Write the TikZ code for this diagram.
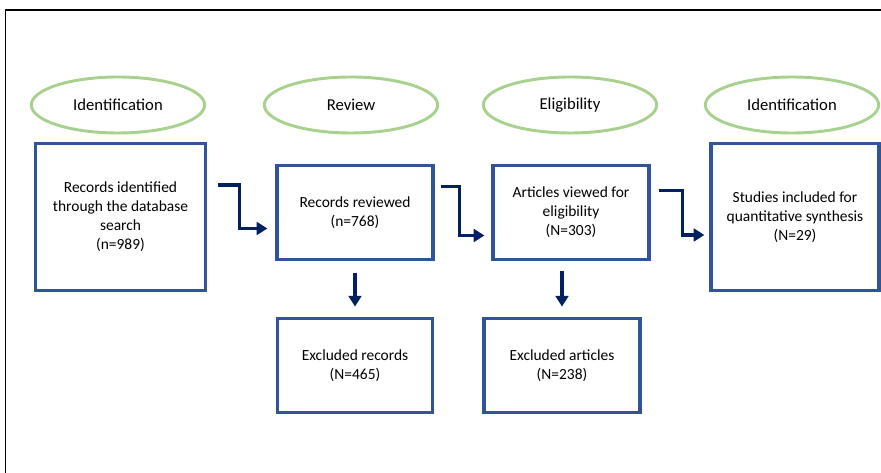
\documentclass[tikz,border=0pt]{standalone}
\usepackage{fontspec}
\setmainfont{Carlito}
\usetikzlibrary{arrows.meta,calc,shapes.geometric}

\tikzset{
	phase/.style={ellipse, draw={rgb, 255:red, 169; green, 209; blue, 142 }, line width=2.2pt, minimum width=130pt, minimum height=42pt, inner sep=0pt, font=\fontsize{12.5}{15}\selectfont},
	stage/.style={draw={rgb, 255:red, 47; green, 85; blue, 151 }, line width=2.4pt, align=center, inner sep=0pt, font=\fontsize{11.6}{14.3}\selectfont},
	flow/.style={draw={rgb, 255:red, 0; green, 32; blue, 96 }, line width=2.6pt, -{Triangle[length=8pt,width=9.5pt]}}
}

\begin{document}
\begin{tikzpicture}[x=0.75pt,y=0.75pt,yscale=-1,xscale=1]
		\useasboundingbox (0,0) rectangle (881,473);
		
		% Frame
		\draw [line width=1.1pt] (5.5,480) -- (5.5,10) -- (885,10) ;
		
		% Phases
		\node [phase] (ph1) at (118,105) {Identification};
		\node [phase] (ph2) at (351,105) {Review};
		\node [phase] (ph3) at (570,105) {Eligibility};
		\node [phase] (ph4) at (792,105) {Identification};
		
		% Boxes
		\node [stage, minimum width=127pt, minimum height=110pt] (found) at (120.5,217) {Records identified\\through the database\\search\\(n=989)};
		\node [stage, minimum width=117pt, minimum height=70pt] (reviewed) at (355,212.5) {Records reviewed\\(n=768)};
		\node [stage, minimum width=117pt, minimum height=70pt] (viewed) at (571,212.5) {Articles viewed for\\eligibility\\(N=303)};
		\node [stage, minimum width=126pt, minimum height=110pt] (included) at (795,217) {Studies included for\\quantitative synthesis\\(N=29)};
		\node [stage, minimum width=116pt, minimum height=70pt] (exrecords) at (355,365.5) {Excluded records\\(N=465)};
		\node [stage, minimum width=117pt, minimum height=70pt] (exarticles) at (562,365.5) {Excluded articles\\(N=238)};
		
		% Arrows
		\draw [flow] ($(found.east)+(11,-32)$) -| ($(reviewed.west)+(-36,16)$) -- ($(reviewed.west)+(-8,16)$) ;
		\draw [flow] ($(reviewed.east)+(6,-26)$) -| ($(viewed.west)+(-32,23)$) -- ($(viewed.west)+(-7,23)$) ;
		\draw [flow] ($(viewed.east)+(8,-22)$) -| ($(included.west)+(-27,18)$) -- ($(included.west)+(-5,18)$) ;
		\draw [flow, shorten <=9pt, shorten >=8pt] (reviewed) -- (exrecords) ;
		\draw [flow, shorten <=8pt, shorten >=8pt] (exarticles.north |- viewed.south) -- (exarticles.north) ;
		
	\end{tikzpicture}
\end{document}
